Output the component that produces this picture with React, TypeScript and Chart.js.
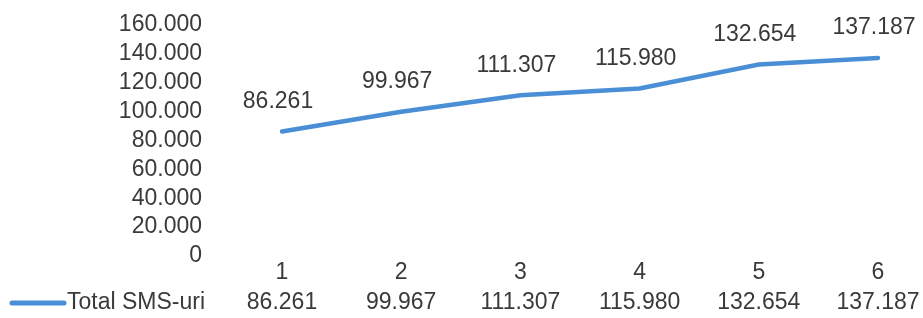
import React, { useEffect, useRef } from "react";
import { Chart, registerables } from "chart.js";

Chart.register(...registerables);

const categories: string[] = ["1", "2", "3", "4", "5", "6"];
const seriesName = "Total SMS-uri";
const seriesValues: number[] = [86261, 99967, 111307, 115980, 132654, 137187];
const yTicks: number[] = [0, 20000, 40000, 60000, 80000, 100000, 120000, 140000, 160000];

const FONT_FAMILY = "'Liberation Sans', Arial, sans-serif";
const FONT_SIZE = 23;
const TEXT_COLOR = "#3a3a3a";
const LINE_COLOR = "#4a8fd6";

const fmt = (v: number) => {
  const s = Math.round(v).toString();
  return s.replace(/\B(?=(\d{3})+(?!\d))/g, ".");
};

const extrasPlugin = {
  id: "extras",
  afterDatasetsDraw(chart: any) {
    const ctx = chart.ctx;
    const meta = chart.getDatasetMeta(0);
    const xScale = chart.scales.x;
    ctx.save();
    ctx.font = `${FONT_SIZE}px ${FONT_FAMILY}`;
    ctx.fillStyle = TEXT_COLOR;
    // data labels
    ctx.textAlign = "center";
    ctx.textBaseline = "middle";
    meta.data.forEach((pt: any, i: number) => {
      ctx.fillText(fmt(seriesValues[i]), pt.x - 4, pt.y - 30);
    });
    // data table row
    const rowY = 303;
    ctx.strokeStyle = LINE_COLOR;
    ctx.lineWidth = 5;
    ctx.lineCap = "round";
    ctx.beginPath();
    ctx.moveTo(12, rowY);
    ctx.lineTo(64, rowY);
    ctx.stroke();
    ctx.textAlign = "left";
    ctx.fillText(seriesName, 67, rowY);
    ctx.textAlign = "center";
    categories.forEach((c, i) => {
      ctx.fillText(fmt(seriesValues[i]), xScale.getPixelForValue(i), rowY);
    });
    ctx.restore();
  },
};

export default function App() {
  const ref = useRef<HTMLCanvasElement | null>(null);
  useEffect(() => {
    if (!ref.current) return;
    const chart = new Chart(ref.current, {
      type: "line",
      data: {
        labels: categories,
        datasets: [
          {
            label: seriesName,
            data: seriesValues,
            borderColor: LINE_COLOR,
            backgroundColor: LINE_COLOR,
            borderWidth: 4.5,
            pointRadius: 0,
            tension: 0,
            borderCapStyle: "round",
          },
        ],
      },
      options: {
        responsive: false,
        animation: false,
        maintainAspectRatio: false,
        layout: { padding: { top: 25, right: 45, left: 0, bottom: 0 } },
        plugins: { legend: { display: false }, tooltip: { enabled: false } },
        scales: {
          x: {
            offset: false,
            grid: { display: false, drawTicks: false },
            border: { display: false },
            ticks: {
              padding: 3,
              color: TEXT_COLOR,
              font: { family: FONT_FAMILY, size: FONT_SIZE },
              maxRotation: 0,
              autoSkip: false,
            },
            afterFit(s: any) {
              s.height = 62;
              s.paddingLeft = 0;
              s.paddingRight = 0;
            },
          },
          y: {
            min: 0,
            max: 160000,
            grid: { display: false, drawTicks: false },
            border: { display: false },
            afterBuildTicks(s: any) {
              s.ticks = yTicks.map((v) => ({ value: v }));
            },
            ticks: {
              padding: 80,
              autoSkip: false,
              color: TEXT_COLOR,
              font: { family: FONT_FAMILY, size: FONT_SIZE },
              callback: (v: any) => fmt(Number(v)),
            },
            afterFit(s: any) {
              s.width = 282;
              s.paddingTop = 0;
              s.paddingBottom = 0;
            },
          },
        },
      },
      plugins: [extrasPlugin],
    });
    return () => chart.destroy();
  }, []);
  return (
    <div style={{ position: "fixed", left: 0, top: 0, width: 923, height: 318, background: "#fff" }}>
      <canvas ref={ref} width={923} height={318} style={{ display: "block" }} />
    </div>
  );
}
